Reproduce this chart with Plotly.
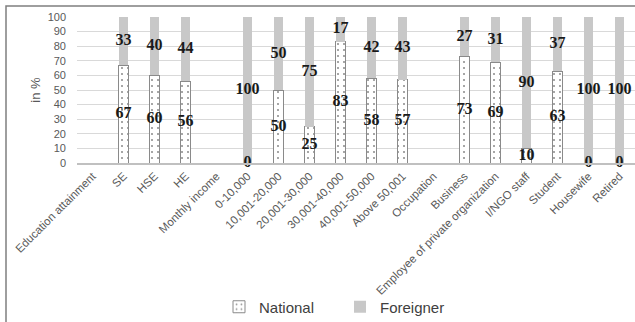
import plotly.graph_objects as go

# Share of respondents (in %) by group
categories = [
    "Education attainment", "SE", "HSE", "HE",
    "Monthly income", "0-10,000", "10,001-20,000", "20,001-30,000",
    "30,001-40,000", "40,001-50,000", "Above 50,001",
    "Occupation", "Business", "Employee of private organization",
    "I/NGO staff", "Student", "Housewife", "Retired",
]
national = [None, 67, 60, 56, None, 0, 50, 25, 83, 58, 57, None, 73, 69, 10, 63, 0, 0]
foreigner = [None, 33, 40, 44, None, 100, 50, 75, 17, 42, 43, None, 27, 31, 90, 37, 100, 100]
y_ticks = [0, 10, 20, 30, 40, 50, 60, 70, 80, 90, 100]

W, H = 635, 322
M_L, M_R, M_T, M_B = 77, 0, 17, 159

label_font = dict(family="Liberation Serif, Times New Roman, serif", size=16,
                  color="#1a1a1a", weight="bold")

fig = go.Figure()
fig.add_trace(go.Bar(
    name="National", x=categories, y=national,
    marker=dict(
        color="white",
        line=dict(color="#8a8a8a", width=1),
        pattern=dict(shape=".", fgcolor="#222222", bgcolor="white", size=6, solidity=0.1),
    ),
    width=0.32,
))
fig.add_trace(go.Bar(
    name="Foreigner", x=categories, y=foreigner,
    marker=dict(color="#c8c8c8", line=dict(width=0)),
    width=0.32,
))

# value labels centred on each segment
nat_x, nat_y, nat_t = [], [], []
for_x, for_y, for_t = [], [], []
for c, n, f in zip(categories, national, foreigner):
    if n is None:
        continue
    nat_x.append(c); nat_y.append(n / 2); nat_t.append(str(n))
    for_x.append(c); for_y.append(n + f / 2); for_t.append(str(f))

for xs, ys, ts in ((nat_x, nat_y, nat_t), (for_x, for_y, for_t)):
    fig.add_trace(go.Scatter(
        x=xs, y=ys, text=ts, mode="text", textposition="middle center",
        textfont=label_font, showlegend=False, hoverinfo="skip", cliponaxis=False,
    ))

pw = W - M_L - M_R
ph = H - M_T - M_B
# outer chart frame
fig.add_shape(
    type="rect", xref="paper", yref="paper",
    x0=(6 - M_L) / pw, x1=(W + 30 - M_L) / pw,
    y0=(H - M_B - (H + 30)) / ph, y1=(H - M_B - 6) / ph,
    line=dict(color="#7f7f7f", width=1.5), fillcolor="rgba(0,0,0,0)", layer="below",
)

fig.update_layout(
    width=W, height=H,
    margin=dict(l=M_L, r=M_R, t=M_T, b=M_B, autoexpand=False),
    barmode="stack",
    plot_bgcolor="white", paper_bgcolor="white",
    font=dict(family="Liberation Sans, Arial, sans-serif", color="#595959"),
    showlegend=True,
    legend=dict(
        orientation="h", traceorder="normal",
        x=(219 - M_L) / pw, xanchor="left",
        y=(H - M_B - 307) / ph, yanchor="middle",
        font=dict(size=15, color="#404040"), bgcolor="rgba(0,0,0,0)",
        entrywidth=76,
    ),
    xaxis=dict(
        type="category", tickangle=-45, tickfont=dict(size=11.5),
        showgrid=False, showline=True, linecolor="#c0c0c0", linewidth=2,
        ticks="", range=[-0.5, len(categories) - 0.5],
    ),
    yaxis=dict(
        range=[0, 100], tickvals=y_ticks, tickfont=dict(size=11),
        showgrid=True, gridcolor="#d9d9d9", gridwidth=1, zeroline=False,
        showline=False, ticks="", ticklabelstandoff=10,
        title=dict(text="in %", font=dict(size=13, color="#595959"), standoff=4),
    ),
)

fig.write_html("out.html")
